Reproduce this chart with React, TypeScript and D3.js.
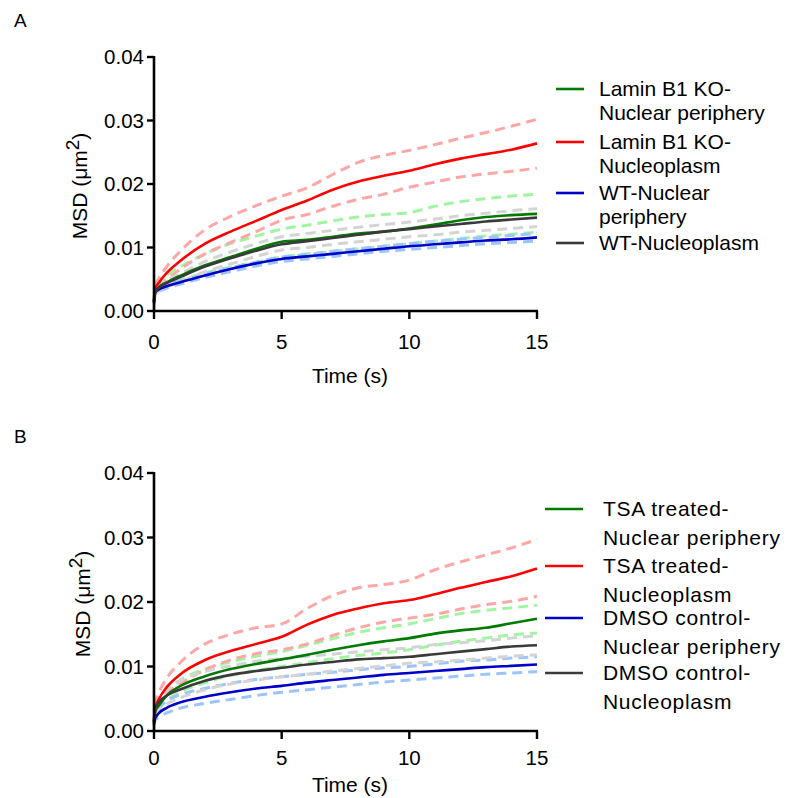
import React from "react";
import * as d3 from "d3";

// lag times (s) shared by every curve
const times = [0, 0.05, 0.2, 0.5, 1, 2, 3, 4, 5, 6, 7, 8, 9, 10, 11, 12, 13, 14, 15];

// Panel A: Lamin B1 KO vs WT
const koPeriA = [0.0015, 0.003, 0.0038, 0.0045, 0.0055, 0.0072, 0.0085, 0.0098, 0.0109, 0.0112, 0.0117, 0.0122, 0.0125, 0.013, 0.0136, 0.0143, 0.0148, 0.0151, 0.0153];
const koPeriAHi = [0.0015, 0.0038, 0.0046, 0.0057, 0.0069, 0.009, 0.0106, 0.0118, 0.0129, 0.0135, 0.0142, 0.0148, 0.0152, 0.0155, 0.0165, 0.0172, 0.0177, 0.0181, 0.0184];
const koPeriALo = [0.0015, 0.0028, 0.0033, 0.004, 0.0048, 0.006, 0.0069, 0.0077, 0.0085, 0.009, 0.0094, 0.0098, 0.0102, 0.0106, 0.011, 0.0114, 0.0118, 0.0121, 0.0124];
const koNucA = [0.0015, 0.0035, 0.0045, 0.006, 0.0078, 0.0106, 0.0125, 0.0142, 0.0159, 0.0174, 0.0191, 0.0204, 0.0213, 0.0221, 0.0231, 0.024, 0.0247, 0.0254, 0.0264];
const koNucAHi = [0.0015, 0.004, 0.0052, 0.007, 0.0093, 0.0128, 0.0149, 0.0166, 0.0181, 0.0194, 0.0215, 0.0234, 0.0245, 0.0253, 0.0262, 0.0272, 0.0281, 0.0291, 0.0302];
const koNucALo = [0.0015, 0.003, 0.0038, 0.005, 0.0065, 0.009, 0.0108, 0.0125, 0.0143, 0.0152, 0.0165, 0.0176, 0.0184, 0.0195, 0.0203, 0.0211, 0.0216, 0.022, 0.0225];
const wtPeriA = [0.0012, 0.003, 0.0034, 0.0039, 0.0045, 0.0056, 0.0066, 0.0075, 0.0082, 0.0086, 0.009, 0.0094, 0.0098, 0.0102, 0.0105, 0.0108, 0.0111, 0.0113, 0.0116];
const wtPeriAHi = [0.0012, 0.0032, 0.0036, 0.0041, 0.0047, 0.0058, 0.0068, 0.0077, 0.0085, 0.0089, 0.0094, 0.0098, 0.0102, 0.0106, 0.011, 0.0113, 0.0116, 0.0119, 0.0122];
const wtPeriALo = [0.001, 0.0027, 0.0031, 0.0036, 0.0042, 0.0053, 0.0062, 0.0071, 0.0078, 0.0082, 0.0086, 0.009, 0.0094, 0.0097, 0.01, 0.0103, 0.0106, 0.0108, 0.011];
const wtNucA = [0.0015, 0.003, 0.0037, 0.0044, 0.0053, 0.007, 0.0083, 0.0095, 0.0105, 0.011, 0.0115, 0.012, 0.0125, 0.0129, 0.0133, 0.0137, 0.0141, 0.0144, 0.0147];
const wtNucAHi = [0.0012, 0.0032, 0.004, 0.0048, 0.0058, 0.0078, 0.0093, 0.0106, 0.0117, 0.0122, 0.0127, 0.0132, 0.0136, 0.014, 0.0145, 0.015, 0.0154, 0.0158, 0.0161];
const wtNucALo = [0.0, 0.0026, 0.0032, 0.0038, 0.0045, 0.0062, 0.0074, 0.0086, 0.0096, 0.01, 0.0105, 0.0109, 0.0113, 0.0117, 0.012, 0.0124, 0.0127, 0.013, 0.0133];

// Panel B: TSA treated vs DMSO control
const tsaPeriB = [0.0012, 0.003, 0.004, 0.0055, 0.0069, 0.0085, 0.0096, 0.0104, 0.0111, 0.0118, 0.0126, 0.0133, 0.0139, 0.0144, 0.0151, 0.0156, 0.016, 0.0167, 0.0174];
const tsaPeriBHi = [0.0012, 0.0033, 0.0045, 0.0062, 0.0078, 0.0096, 0.0107, 0.0116, 0.0123, 0.0133, 0.0143, 0.0153, 0.016, 0.0166, 0.0174, 0.0182, 0.0187, 0.0191, 0.0195];
const tsaPeriBLo = [0.001, 0.0026, 0.0035, 0.0048, 0.006, 0.0075, 0.0086, 0.0094, 0.01, 0.0106, 0.0112, 0.0117, 0.0121, 0.0126, 0.0133, 0.0139, 0.0144, 0.0149, 0.0152];
const tsaNucB = [0.0015, 0.0035, 0.005, 0.0068, 0.0087, 0.011, 0.0124, 0.0135, 0.0146, 0.0165, 0.018, 0.019, 0.0198, 0.0203, 0.0212, 0.0222, 0.0231, 0.024, 0.0252];
const tsaNucBHi = [0.0015, 0.0042, 0.006, 0.0082, 0.0105, 0.0135, 0.015, 0.016, 0.0166, 0.019, 0.021, 0.0222, 0.0227, 0.0234, 0.025, 0.0262, 0.0273, 0.0284, 0.0297];
const tsaNucBLo = [0.0012, 0.003, 0.0042, 0.0058, 0.0072, 0.0095, 0.011, 0.012, 0.0126, 0.0135, 0.0148, 0.016, 0.0169, 0.0175, 0.0181, 0.0189, 0.0196, 0.0201, 0.0209];
const dmsoPeriB = [0.001, 0.002, 0.0028, 0.0036, 0.0044, 0.0053, 0.006, 0.0066, 0.007, 0.0075, 0.0079, 0.0083, 0.0087, 0.009, 0.0093, 0.0096, 0.0099, 0.0101, 0.0103];
const dmsoPeriBHi = [0.001, 0.0027, 0.0036, 0.0047, 0.0056, 0.0066, 0.0074, 0.008, 0.0084, 0.0088, 0.0091, 0.0095, 0.0098, 0.01, 0.0104, 0.0108, 0.011, 0.0113, 0.0115];
const dmsoPeriBLo = [0.0008, 0.0017, 0.0022, 0.0028, 0.0035, 0.0043, 0.0049, 0.0055, 0.006, 0.0064, 0.0068, 0.0072, 0.0076, 0.0079, 0.0082, 0.0085, 0.0088, 0.009, 0.0092];
const dmsoNucB = [0.0015, 0.0035, 0.0045, 0.0055, 0.0064, 0.0078, 0.0087, 0.0093, 0.0098, 0.0103, 0.0107, 0.0111, 0.0113, 0.0115, 0.0119, 0.0123, 0.0127, 0.0131, 0.0133];
const dmsoNucBHi = [0.0012, 0.0035, 0.0048, 0.0063, 0.0078, 0.0092, 0.0101, 0.0108, 0.0112, 0.0116, 0.0119, 0.0123, 0.0126, 0.0129, 0.0134, 0.0137, 0.014, 0.0144, 0.0148];
const dmsoNucBLo = [0.0, 0.0025, 0.0033, 0.0042, 0.0051, 0.0064, 0.0073, 0.0079, 0.0084, 0.0088, 0.0093, 0.0097, 0.0101, 0.0105, 0.0107, 0.011, 0.0113, 0.0116, 0.0118];

const xTicks = [0, 5, 10, 15];
const yTicks = [0, 0.01, 0.02, 0.03, 0.04];

const labelsA = [
  ["Lamin B1 KO-", "Nuclear periphery"],
  ["Lamin B1 KO-", "Nucleoplasm"],
  ["WT-Nuclear", "periphery"],
  ["WT-Nucleoplasm"],
];
const labelsB = [
  ["TSA treated-", "Nuclear periphery"],
  ["TSA treated-", "Nucleoplasm"],
  ["DMSO control-", "Nuclear periphery"],
  ["DMSO control-", "Nucleoplasm"],
];

const solidColors = ["#007a00", "#ff0000", "#0000c8", "#3a3a3a"];
const dashColors = ["#a0f5a0", "#ffa6a6", "#9cc4ff", "#d4d4d4"];

const FONT = "Arial, 'Liberation Sans', sans-serif";

type PanelProps = {
  letter: string;
  top: number; // y of 0.04
  bottom: number; // y of 0.00
  groups: number[][][]; // [mean, hi, lo] per group
  labels: string[][];
  legendY: number[];
  legendX: [number, number, number];
  lineGap: number;
  spacing: number;
  tickGap: number;
  titleGap: number;
  ylabX: number;
};

function Panel(p: PanelProps) {
  const x = d3.scaleLinear().domain([0, 15]).range([154, 537]);
  const y = d3.scaleLinear().domain([0, 0.04]).range([p.bottom, p.top]);
  const line = d3
    .line<number>()
    .x((_, i) => x(times[i]))
    .y((d) => y(d))
    .curve(d3.curveMonotoneX);
  const midY = (p.top + p.bottom) / 2 + 2;
  return (
    <g fontFamily={FONT}>
      <text x={14} y={p.top - 30} fontSize={19}>{p.letter}</text>
      {/* dashed bounds first */}
      {p.groups.map((g, i) => (
        <g key={"d" + i}>
          <path d={line(g[1]) || ""} fill="none" stroke={dashColors[i]} strokeWidth={3} strokeDasharray="10,6" />
          <path d={line(g[2]) || ""} fill="none" stroke={dashColors[i]} strokeWidth={3} strokeDasharray="10,6" />
        </g>
      ))}
      {p.groups.map((g, i) => (
        <path key={"s" + i} d={line(g[0]) || ""} fill="none" stroke={solidColors[i]} strokeWidth={2.6} />
      ))}
      {/* axes */}
      <line x1={154} x2={154} y1={p.top - 1} y2={p.bottom + 1} stroke="#000" strokeWidth={2.6} />
      <line x1={153} x2={538} y1={p.bottom} y2={p.bottom} stroke="#000" strokeWidth={2.6} />
      {yTicks.map((t) => (
        <g key={"y" + t}>
          <line x1={147} x2={154} y1={y(t)} y2={y(t)} stroke="#000" strokeWidth={2.4} />
          <text x={144} y={y(t)} dy="0.35em" textAnchor="end" fontSize={20.5}>
            {d3.format(".2f")(t)}
          </text>
        </g>
      ))}
      {xTicks.map((t) => (
        <g key={"x" + t}>
          <line x1={x(t)} x2={x(t)} y1={p.bottom} y2={p.bottom + 8} stroke="#000" strokeWidth={2.4} />
          <text x={x(t)} y={p.bottom + p.tickGap} textAnchor="middle" fontSize={20.5}>
            {t}
          </text>
        </g>
      ))}
      <text x={350} y={p.bottom + p.titleGap} textAnchor="middle" fontSize={21}>Time (s)</text>
      <text transform={`translate(${p.ylabX},${midY}) rotate(-90)`} textAnchor="middle" fontSize={21}>
        MSD (μm<tspan dy={-8} fontSize={19}>2</tspan><tspan dy={8}>)</tspan>
      </text>
      {/* legend */}
      {p.labels.map((lines, i) => (
        <g key={"l" + i}>
          <line x1={p.legendX[0]} x2={p.legendX[1]} y1={p.legendY[i]} y2={p.legendY[i]} stroke={solidColors[i]} strokeWidth={2.6} />
          {lines.map((s, j) => (
            <text key={j} x={p.legendX[2]} y={p.legendY[i] + j * p.lineGap} dy="0.35em" fontSize={21} letterSpacing={p.spacing}>
              {s}
            </text>
          ))}
        </g>
      ))}
    </g>
  );
}

export default function App() {
  const groupsA = [
    [koPeriA, koPeriAHi, koPeriALo],
    [koNucA, koNucAHi, koNucALo],
    [wtPeriA, wtPeriAHi, wtPeriALo],
    [wtNucA, wtNucAHi, wtNucALo],
  ];
  const groupsB = [
    [tsaPeriB, tsaPeriBHi, tsaPeriBLo],
    [tsaNucB, tsaNucBHi, tsaNucBLo],
    [dmsoPeriB, dmsoPeriBHi, dmsoPeriBLo],
    [dmsoNucB, dmsoNucBHi, dmsoNucBLo],
  ];
  return (
    <svg width={787} height={798} style={{ position: "absolute", left: 0, top: 0, background: "#fff" }}>
      <rect width={787} height={798} fill="#fff" />
      <Panel
        letter="A"
        top={57}
        bottom={311}
        groups={groupsA}
        labels={labelsA}
        legendY={[89, 142, 193, 243]}
        legendX={[556, 584, 599]}
        lineGap={24}
        spacing={0}
        tickGap={38}
        titleGap={72}
        ylabX={87}
      />
      <Panel
        letter="B"
        top={473}
        bottom={731}
        groups={groupsB}
        labels={labelsB}
        legendY={[509, 566, 618, 673]}
        legendX={[545, 583, 603]}
        lineGap={29}
        spacing={0.7}
        tickGap={34}
        titleGap={61}
        ylabX={90}
      />
    </svg>
  );
}
